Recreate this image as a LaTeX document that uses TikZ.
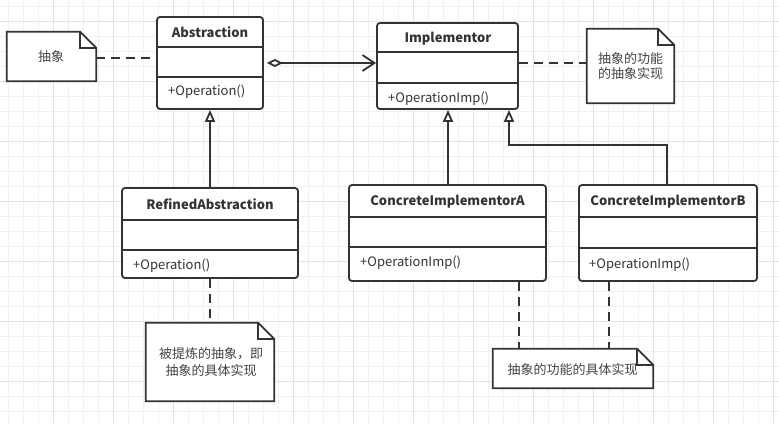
\documentclass[tikz,border=0pt]{standalone}
\usepackage{fontspec}
\setmainfont{Noto Sans CJK SC}
\usetikzlibrary{arrows.meta,calc}
\definecolor{ink}{HTML}{333333}
\definecolor{notetxt}{HTML}{444444}
\definecolor{gridminor}{HTML}{F0F0F0}
\definecolor{gridmajor}{HTML}{E2E2E2}
\newcommand{\umlnote}[1]{%
  \draw[noteline] (#1.north west) -- ($(#1.north east)+(-16,0)$) -- ($(#1.north east)+(0,16)$) -- (#1.south east) -- (#1.south west) -- cycle;
  \draw[noteline, fill=none] ($(#1.north east)+(-16,0)$) -- ($(#1.north east)+(-16,16)$) -- ($(#1.north east)+(0,16)$);}
\begin{document}
\begin{tikzpicture}[x=1pt,y=-1pt,
  classbox/.style={draw=ink, line width=1.8pt, rounded corners=3pt, fill=white, inner sep=0pt},
  sep/.style={draw=ink, line width=1.8pt},
  title/.style={font=\bfseries\fontsize{13}{15}\selectfont, text=ink, inner sep=0pt},
  member/.style={font=\fontsize{13}{15}\selectfont, text=ink, inner sep=0pt, anchor=west},
  notebody/.style={inner sep=0pt, draw=none},
  noteline/.style={draw=ink, line width=1.8pt, fill=white, line join=miter},
  notetext/.style={font=\fontsize{13}{16}\selectfont, text=notetxt, align=center, inner sep=0pt},
  dashline/.style={draw=ink, line width=1.8pt, dash pattern=on 9pt off 6pt},
  solidline/.style={draw=ink, line width=1.8pt},
  inherit/.style={solidline, -{Triangle[open, length=12pt, width=10pt]}},
]
\useasboundingbox (0,0) rectangle (779,423);
\fill[white] (0,0) rectangle (779,423);
% grid
\foreach \x in {8.33,23.33,...,779} \draw[gridminor, line width=1pt] (\x,0) -- (\x,423);
\foreach \y in {6.67,21.67,...,423} \draw[gridminor, line width=1pt] (0,\y) -- (779,\y);
\foreach \x in {53.33,113.33,...,779} \draw[gridmajor, line width=1pt] (\x,0) -- (\x,423);
\foreach \y in {21.67,81.67,...,423} \draw[gridmajor, line width=1pt] (0,\y) -- (779,\y);

% class boxes
\node[classbox, minimum width=106, minimum height=92] (abs) at (210,63) {};
\draw[sep] (abs.west |- 0,47) -- (abs.east |- 0,47);
\draw[sep] (abs.west |- 0,77) -- (abs.east |- 0,77);
\node[title] (absT) at (210,32) {Abstraction};
\node[member] (absM) at (168,92) {+Operation()};

\node[classbox, minimum width=141, minimum height=86] (impl) at (447.5,66) {};
\draw[sep] (impl.west |- 0,52) -- (impl.east |- 0,52);
\draw[sep] (impl.west |- 0,83) -- (impl.east |- 0,83);
\node[title] (implT) at (448,39) {Implementor};
\node[member] (implM) at (388,99) {+OperationImp()};

\node[classbox, minimum width=176, minimum height=90] (ref) at (210,233) {};
\draw[sep] (ref.west |- 0,220) -- (ref.east |- 0,220);
\draw[sep] (ref.west |- 0,250) -- (ref.east |- 0,250);
\node[title] (refT) at (210,204) {RefinedAbstraction};
\node[member] (refM) at (133,266) {+Operation()};

\node[classbox, minimum width=197, minimum height=96] (cia) at (447.5,233) {};
\draw[sep] (cia.west |- 0,217) -- (cia.east |- 0,217);
\draw[sep] (cia.west |- 0,247) -- (cia.east |- 0,247);
\node[title] (ciaT) at (447.5,202) {ConcreteImplementorA};
\node[member] (ciaM) at (360,263) {+OperationImp()};

\node[classbox, minimum width=178, minimum height=96] (cib) at (668,233) {};
\draw[sep] (cib.west |- 0,217) -- (cib.east |- 0,217);
\draw[sep] (cib.west |- 0,248) -- (cib.east |- 0,248);
\node[title] (cibT) at (668,202) {ConcreteImplementorB};
\node[member] (cibM) at (589,265) {+OperationImp()};

% notes
\node[notebody, minimum width=89, minimum height=49] (n1) at (51.5,56.5) {};
\umlnote{n1}
\node[notetext] (t1) at (51,57) {抽象};

\node[notebody, minimum width=87, minimum height=74] (n2) at (630.5,66) {};
\umlnote{n2}
\node[notetext, font=\fontsize{13}{15}\selectfont] (t2) at (630.5,66.5) {抽象的功能\\的抽象实现};

\node[notebody, minimum width=128, minimum height=78] (n3) at (210,362) {};
\umlnote{n3}
\node[notetext, font=\fontsize{13}{17}\selectfont] (t3) at (211,362.5) {被提炼的抽象，即\\抽象的具体实现};

\node[notebody, minimum width=160, minimum height=39] (n4) at (573,368.5) {};
\umlnote{n4}
\node[notetext] (t4) at (572.7,370) {抽象的功能的具体实现};

% connectors
\draw[dashline] (n1.east |- 0,58) -- (abs.west |- 0,58);
\draw[dashline] (impl.east |- 0,63) -- (n2.west |- 0,63);
\draw[solidline, {Diamond[open,length=16pt,width=8pt]}-{Straight Barb[length=12pt,width=16pt]}] ($(abs.east)+(3,0)$) -- (abs.east -| impl.west);
\draw[inherit] (ref.north) -- (abs.south);
\draw[inherit] (cia.north -| 448,0) -- (impl.south -| 448,0);
\coordinate (bend) at (509,145);
\draw[inherit] (cib.north -| 667,0) |- (bend) -- (impl.south -| bend);
\draw[dashline] (ref.south) -- (n3.north);
\draw[dashline] (cia.south -| 519,0) -- (n4.north -| 519,0);
\draw[dashline] (cib.south -| 609,0) -- (n4.north -| 609,0);
\end{tikzpicture}
\end{document}
